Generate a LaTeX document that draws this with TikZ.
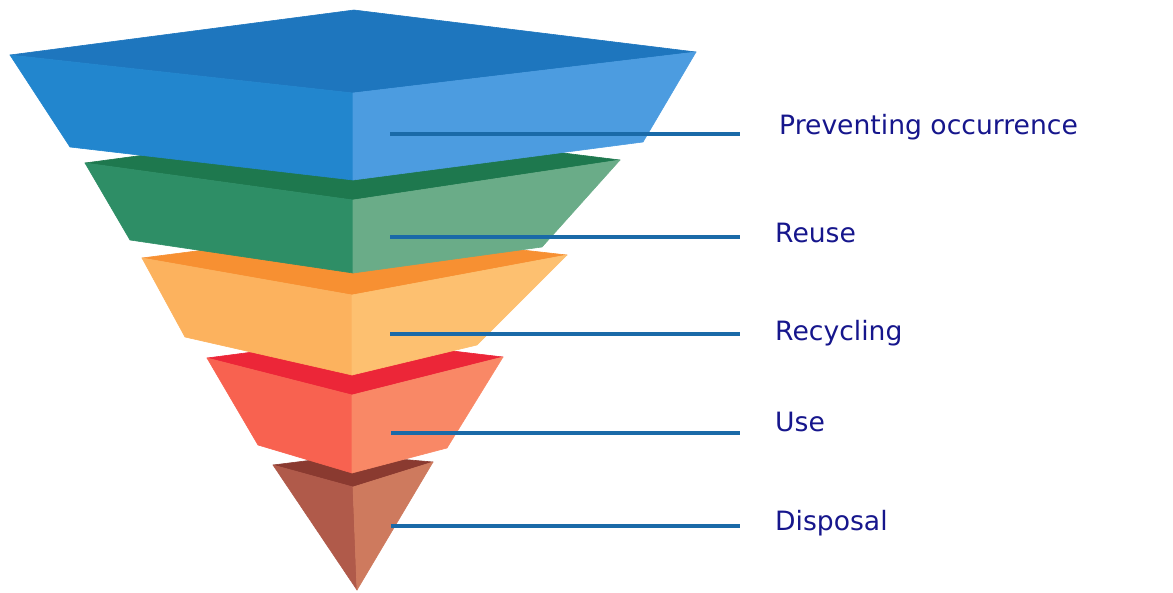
\documentclass[tikz,border=0pt]{standalone}
\usepackage{fontspec}
\setmainfont{DejaVu Sans}
\definecolor{bTop}{RGB}{30,118,190}
\definecolor{bLeft}{RGB}{34,134,206}
\definecolor{bRight}{RGB}{76,156,224}
\definecolor{gTop}{RGB}{30,120,78}
\definecolor{gLeft}{RGB}{46,142,102}
\definecolor{gRight}{RGB}{106,172,136}
\definecolor{oTop}{RGB}{247,144,50}
\definecolor{oLeft}{RGB}{252,178,94}
\definecolor{oRight}{RGB}{253,192,112}
\definecolor{rTop}{RGB}{236,38,56}
\definecolor{rLeft}{RGB}{248,98,80}
\definecolor{rRight}{RGB}{249,136,102}
\definecolor{dTop}{RGB}{138,58,48}
\definecolor{dLeft}{RGB}{176,90,74}
\definecolor{dRight}{RGB}{206,122,94}
\definecolor{leader}{RGB}{26,106,168}
\definecolor{labtext}{RGB}{22,22,140}
\begin{document}
\begin{tikzpicture}[x=1pt,y=-1pt,
  facet/.style={fill=#1,draw=#1,line width=0.6pt,line join=round},
  leaderline/.style={draw=leader,line width=4.5pt},
  lab/.style={anchor=west,inner xsep=0pt,inner ysep=0pt,text=labtext,font=\fontsize{26.6}{31}\selectfont}]
\useasboundingbox (0,0) rectangle (1173,592);
% ---- Disposal (brown pyramid)
\filldraw[facet=dTop] (273,465) -- (353,455) -- (433,462) -- (353,487) -- cycle;
\filldraw[facet=dLeft] (273,465) -- (353,487) -- (357,590) -- cycle;
\filldraw[facet=dRight] (353,487) -- (433,462) -- (357,590) -- cycle;
% ---- Use (red)
\filldraw[facet=rTop] (207,358) -- (352,339) -- (503,357) -- (352,395) -- cycle;
\filldraw[facet=rLeft] (207,358) -- (352,395) -- (352,473) -- (258,445) -- cycle;
\filldraw[facet=rRight] (352,395) -- (503,357) -- (447,448) -- (352,473) -- cycle;
% ---- Recycling (orange)
\filldraw[facet=oTop] (142,258) -- (352,231) -- (567,255) -- (352,295) -- cycle;
\filldraw[facet=oLeft] (142,258) -- (352,295) -- (352,375) -- (185,337) -- cycle;
\filldraw[facet=oRight] (352,295) -- (567,255) -- (477,345) -- (352,375) -- cycle;
% ---- Reuse (green)
\filldraw[facet=gTop] (85,163) -- (353,127) -- (620,160) -- (353,200) -- cycle;
\filldraw[facet=gLeft] (85,163) -- (353,200) -- (353,273) -- (130,240) -- cycle;
\filldraw[facet=gRight] (353,200) -- (620,160) -- (542,247) -- (353,273) -- cycle;
% ---- Preventing occurrence (blue)
\filldraw[facet=bTop] (10,55) -- (354,10) -- (696,52) -- (353,93) -- cycle;
\filldraw[facet=bLeft] (10,55) -- (353,93) -- (353,180) -- (70,147) -- cycle;
\filldraw[facet=bRight] (353,93) -- (696,52) -- (643,142) -- (353,180) -- cycle;
% ---- labels
\node[lab] (l1) at (779,127) {Preventing occurrence};
\node[lab] (l2) at (775,233) {Reuse};
\node[lab] (l3) at (775,333) {Recycling};
\node[lab] (l4) at (775,422) {Use};
\node[lab] (l5) at (775,523) {Disposal};
% ---- leader lines
\coordinate (s1) at (390,134);
\coordinate (e1) at (740,134);
\coordinate (s2) at (390,237);
\coordinate (e2) at (740,237);
\coordinate (s3) at (390,334);
\coordinate (e3) at (740,334);
\coordinate (s4) at (391,433);
\coordinate (e4) at (740,433);
\coordinate (s5) at (391,526);
\coordinate (e5) at (740,526);
\draw[leaderline] (s1) -- (e1);
\draw[leaderline] (s2) -- (e2);
\draw[leaderline] (s3) -- (e3);
\draw[leaderline] (s4) -- (e4);
\draw[leaderline] (s5) -- (e5);
\end{tikzpicture}
\end{document}
